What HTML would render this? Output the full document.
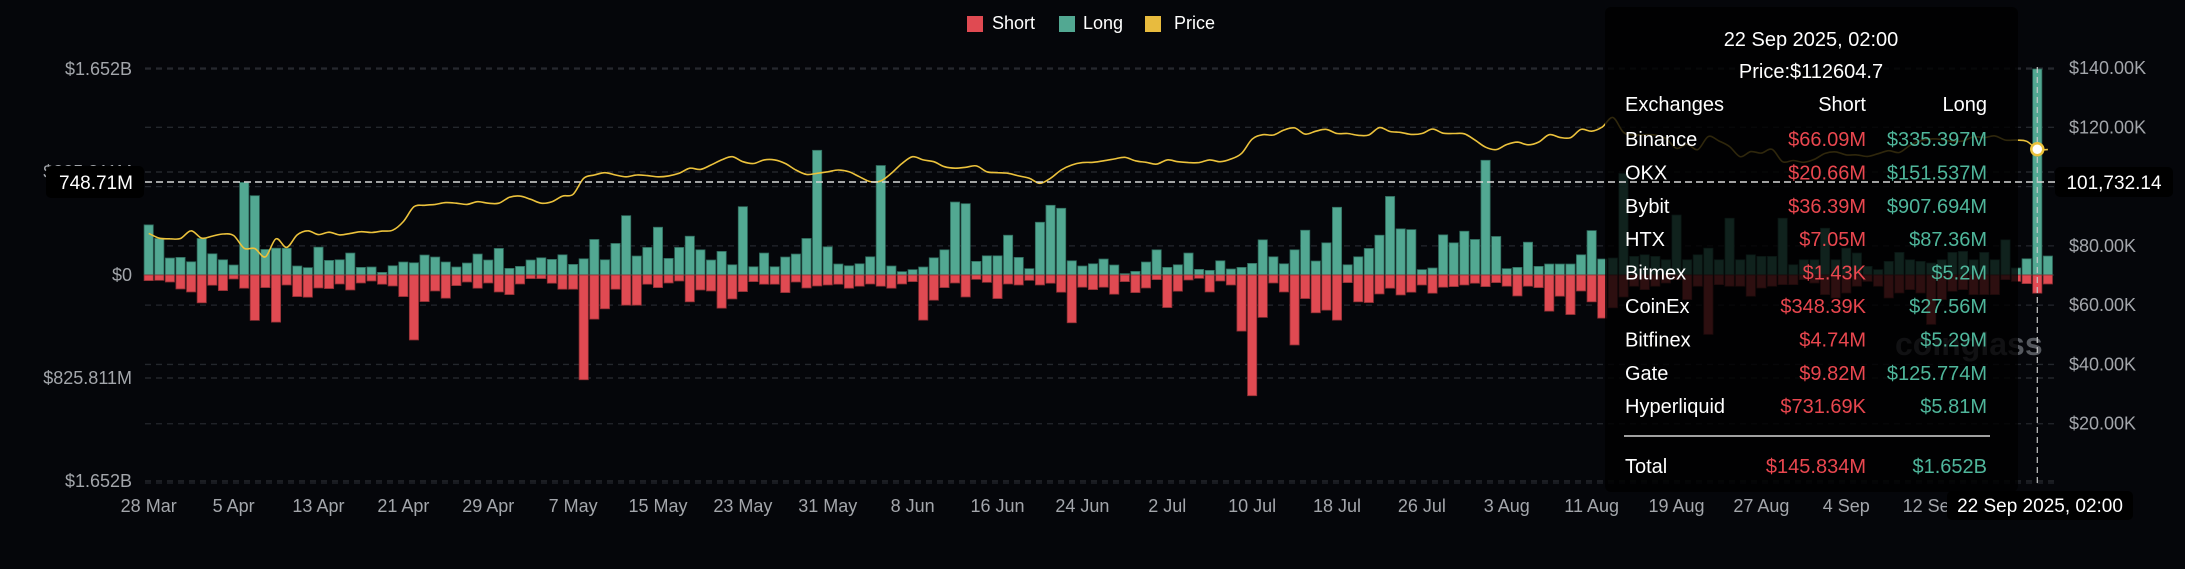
<!DOCTYPE html>
<html><head><meta charset="utf-8">
<style>
html,body{margin:0;padding:0;background:#05060a;}
body{width:2185px;height:569px;overflow:hidden;font-family:"Liberation Sans",sans-serif;}
svg{display:block}
</style></head>
<body>
<svg id="chart" width="2185" height="569" viewBox="0 0 2185 569" xmlns="http://www.w3.org/2000/svg">
<rect x="0" y="0" width="2185" height="569" fill="#05060a"/>
<g id="grid"></g>
<g id="bars"></g>
<g id="priceg"></g>
<g id="axes"></g>
<g>
  <g><rect x="967" y="16" width="16" height="16" fill="#e04a52"/><text x="992" y="29" fill="#ffffff" font-size="18">Short</text></g>
  <g><rect x="1059" y="16" width="16" height="16" fill="#52a892"/><text x="1083" y="29" fill="#ffffff" font-size="18">Long</text></g>
  <g><rect x="1145" y="16" width="16" height="16" fill="#e8bb3e"/><text x="1174" y="29" fill="#ffffff" font-size="18">Price</text></g>
</g>
<text x="1895" y="355" fill="#55585e" font-size="32" font-weight="bold">coinglass</text>
<g>
  <rect x="1605" y="7" width="413" height="485" rx="6" fill="rgba(0,0,0,0.8)"/>
  <text x="1811" y="46" fill="#fff" font-size="20" text-anchor="middle">22 Sep 2025, 02:00</text>
  <text x="1811" y="78" fill="#fff" font-size="20" text-anchor="middle">Price:$112604.7</text>
  <g id="ttrows" font-size="20"></g>
  <line x1="1624" y1="436" x2="1990" y2="436" stroke="#fff" stroke-width="1.2"/>
</g>
<g id="overlay"></g>
</svg>
<script>
const dates = [];
(function(){const m=["Jan","Feb","Mar","Apr","May","Jun","Jul","Aug","Sep","Oct"];const d=new Date(2025,2,28);for(let i=0;i<180;i++){dates.push(d.getDate()+" "+m[d.getMonth()]);d.setDate(d.getDate()+1);}})();
const longVals = [402,293,136,141,106,293,170,122,80,742,636,205,215,215,72,59,223,117,122,176,61,64,21,74,104,98,160,144,104,64,96,168,120,213,53,69,120,138,125,162,85,130,285,122,253,
476,152,221,383,133,221,311,202,120,189,82,548,66,176,66,144,168,293,1000,226,88,74,90,146,878,72,27,43,64,138,202,585,572,109,154,154,319,141,51,423,559,535,114,72,
90,128,80,11,29,104,202,61,82,176,45,37,114,48,61,93,282,146,90,202,359,112,258,543,82,146,213,319,630,370,364,43,56,322,258,351,285,920,309,51,61,263,69,88,88,88,162,356,128,
136,814,149,162,149,122,481,122,162,215,122,455,122,162,149,149,455,82,122,122,375,122,215,176,69,43,109,181,122,109,96,122,181,189,122,181,122,282,56,130,1652,152];
const shortVals = [45,43,56,112,136,223,82,125,32,106,364,101,378,80,173,178,104,109,72,120,64,48,74,88,173,521,213,128,186,85,56,106,64,136,157,72,29,29,66,114,114,840,354,271,114,
242,242,74,101,64,48,215,120,128,266,192,133,53,74,74,141,56,104,88,80,74,106,90,72,90,106,72,53,362,202,101,64,176,35,59,189,72,80,43,80,66,138,383,98,
117,98,154,53,141,104,37,261,130,40,27,136,48,80,450,968,340,64,136,561,189,303,282,362,61,215,221,152,106,160,138,80,146,98,93,80,66,93,61,90,168,90,101,290,170,317,128,215,346,
263,176,90,117,90,64,37,197,90,476,77,90,90,170,104,90,77,77,37,64,157,184,144,90,51,90,184,144,117,144,396,197,130,117,157,157,157,37,51,69,145.8,72];
const priceVals = [84.2,82.6,82.4,82.5,85.1,82.6,83.3,84.0,83.5,79.2,79.1,76.3,82.4,79.5,83.7,85.1,83.8,84.6,83.7,84.2,84.8,84.5,85.0,85.3,88.2,93.2,93.7,94.0,94.6,94.4,94.0,94.9,94.4,94.4,96.4,96.8,95.7,94.4,94.9,96.8,97.4,102.8,103.9,104.7,103.9,
103.3,103.9,103.7,103.3,103.6,104.5,106.2,105.8,107.3,109.0,110.1,108.4,107.8,109.0,109.0,107.8,105.6,104.1,104.5,105.0,105.6,105.0,103.3,101.7,101.9,104.5,107.8,110.1,109.0,108.4,106.7,106.2,106.5,107.0,105.0,104.7,104.5,103.6,102.8,101.1,102.8,105.6,107.3,108.1,
108.2,108.7,109.3,109.9,108.7,108.2,107.6,109.0,108.4,108.1,108.1,109.0,108.4,109.3,111.2,116.0,117.5,117.4,119.1,119.8,117.7,118.7,119.3,117.9,117.9,117.3,117.4,119.9,118.6,118.3,117.6,117.9,119.4,118.0,117.9,117.8,115.7,113.3,112.5,114.2,115.0,114.1,115.0,117.5,116.6,116.5,119.3,118.7,120.1,123.3,118.3,117.4,117.5,117.4,116.2,112.9,114.3,112.5,116.9,115.4,113.5,110.1,111.8,111.3,112.6,108.4,108.8,108.2,109.2,111.2,111.7,110.7,110.7,110.2,111.1,112.1,111.5,113.9,115.5,116.1,115.9,115.3,115.4,116.8,116.5,117.1,115.7,115.7,115.3,112.6,112.5];
const leftTicks = ["$1.652B","$825.811M","$0","$825.811M","$1.652B"];
const leftTickVals = [1652,825.811,0,-825.811,-1652];
const rightTickVals = [140,120,100,80,60,40,20];
const tipExchanges = ["Binance","OKX","Bybit","HTX","Bitmex","CoinEx","Bitfinex","Gate","Hyperliquid"];
const tipShort = ["$66.09M","$20.66M","$36.39M","$7.05M","$1.43K","$348.39K","$4.74M","$9.82M","$731.69K"];
const tipLong = ["$335.397M","$151.537M","$907.694M","$87.36M","$5.2M","$27.56M","$5.29M","$125.774M","$5.81M"];

const NS="http://www.w3.org/2000/svg";
const X0=148.7, STEP=10.61, ZERO=275, PXM=206/1652;
const xOf=i=>X0+i*STEP;
const yL=v=>ZERO-v*PXM;
const yP=p=>483-p*2.964;
function mk(tag,attrs,parent){const e=document.createElementNS(NS,tag);for(const k in attrs)e.setAttribute(k,attrs[k]);parent.appendChild(e);return e;}
const grid=document.getElementById('grid'),bars=document.getElementById('bars'),priceg=document.getElementById('priceg'),axes=document.getElementById('axes'),ov=document.getElementById('overlay'),tt=document.getElementById('ttrows');

leftTickVals.forEach(v=>{const l=mk('line',{x1:145,x2:2055,y1:yL(v),y2:yL(v),stroke:'#2a2d33','stroke-dasharray':'6 5','stroke-width':1.3},grid);

});
rightTickVals.concat([0]).forEach(v=>{const l=mk('line',{x1:145,x2:2055,y1:yP(v),y2:yP(v),stroke:'#24272d','stroke-dasharray':'6 5','stroke-width':1.3},grid);

});

for(let i=0;i<longVals.length;i++){
  const x=xOf(i)-4.6;
  const lh=longVals[i]*PXM;
  const b=mk('rect',{x:x,y:ZERO-lh,width:9.2,height:lh,fill:'#52a892',stroke:'#2f6b5d','stroke-width':0.8},bars);
  
  
  const sh=shortVals[i]*PXM;
  const s=mk('rect',{x:x,y:ZERO,width:9.2,height:sh,fill:'#e04a52',stroke:'#8c2e33','stroke-width':0.8},bars);
  
  
}

const pts=priceVals.map((p,i)=>[xOf(i),yP(p)]);
let d="M"+pts[0][0]+","+pts[0][1];
for(let i=0;i<pts.length-1;i++){const p0=pts[Math.max(0,i-1)],p1=pts[i],p2=pts[i+1],p3=pts[Math.min(pts.length-1,i+2)];
const c1=[p1[0]+(p2[0]-p0[0])/6,p1[1]+(p2[1]-p0[1])/6],c2=[p2[0]-(p3[0]-p1[0])/6,p2[1]-(p3[1]-p1[1])/6];
d+=" C"+c1[0].toFixed(1)+","+c1[1].toFixed(1)+" "+c2[0].toFixed(1)+","+c2[1].toFixed(1)+" "+p2[0].toFixed(1)+","+p2[1].toFixed(1);}
const pl=mk('path',{d:d,fill:'none',stroke:'#ecc23c','stroke-width':1.6},priceg);



leftTicks.forEach((t,k)=>{const e=mk('text',{x:132,y:yL(leftTickVals[k])+6,fill:'#a3a6ab','font-size':18,'text-anchor':'end'},axes);e.textContent=t;

});
rightTickVals.forEach(v=>{const e=mk('text',{x:2069,y:yP(v)+6,fill:'#a3a6ab','font-size':18},axes);e.textContent="$"+v.toFixed(2)+"K";

});
for(let i=0;i<=168;i+=8){const e=mk('text',{x:xOf(i),y:512,fill:'#a3a6ab','font-size':18,'text-anchor':'middle'},axes);e.textContent=dates[i];

}

tipExchanges.forEach((n,k)=>{const y=146+k*33.4;
const a=mk('text',{x:1625,y:y,fill:'#fff'},tt);a.textContent=n;


const b=mk('text',{x:1866,y:y,fill:'#e9474f','text-anchor':'end'},tt);b.textContent=tipShort[k];


const c=mk('text',{x:1987,y:y,fill:'#4fb69b','text-anchor':'end'},tt);c.textContent=tipLong[k];

});
[["Exchanges",1625,'start'],["Short",1866,'end'],["Long",1987,'end']].forEach(h=>{const e=mk('text',{x:h[1],y:111,fill:'#fff','text-anchor':h[2]},tt);e.textContent=h[0];

});
[["Total",1625,'start','#fff'],["$145.834M",1866,'end','#e9474f'],["$1.652B",1987,'end','#4fb69b']].forEach(h=>{const e=mk('text',{x:h[1],y:473,fill:h[3],'text-anchor':h[2]},tt);e.textContent=h[0];

});

const hx=xOf(178);
let e;
e=mk('line',{x1:145,x2:2055,y1:182,y2:182,stroke:'#d8d8d8','stroke-dasharray':'7 4','stroke-width':1.5},ov);


e=mk('line',{x1:hx,x2:hx,y1:67,y2:483,stroke:'#c8c8c8','stroke-dasharray':'6 4','stroke-width':1.2},ov);


e=mk('circle',{cx:hx,cy:yP(priceVals[178]),r:6,fill:'#fff',stroke:'#ecc23c','stroke-width':2.5},ov);


e=mk('rect',{x:46,y:166,width:98,height:32,rx:5,fill:'#000'},ov);


e=mk('text',{x:96,y:189,fill:'#fff','font-size':19,'text-anchor':'middle'},ov);e.textContent="748.71M";


e=mk('rect',{x:2055,y:167,width:118,height:30,rx:5,fill:'#000'},ov);


e=mk('text',{x:2114,y:189,fill:'#fff','font-size':19,'text-anchor':'middle'},ov);e.textContent="101,732.14";


e=mk('rect',{x:1947,y:491,width:186,height:29,rx:5,fill:'#000'},ov);


e=mk('text',{x:2040,y:512,fill:'#fff','font-size':19,'text-anchor':'middle'},ov);e.textContent="22 Sep 2025, 02:00";


</script>
</body></html>
